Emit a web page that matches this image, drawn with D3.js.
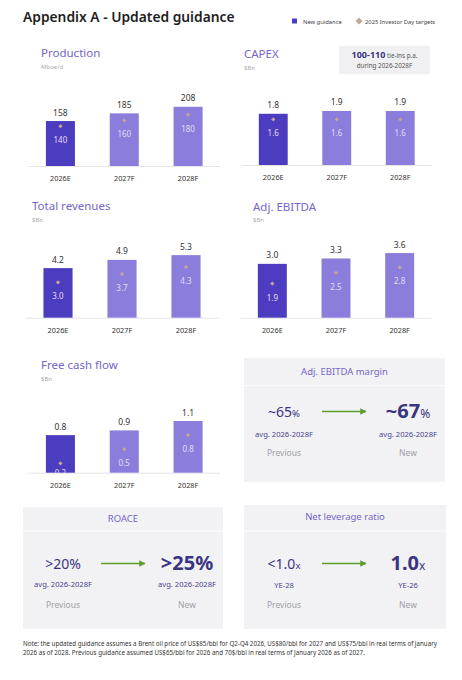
<!DOCTYPE html>
<html>
<head>
<meta charset="utf-8">
<title>Appendix A - Updated guidance</title>
<script src="https://cdnjs.cloudflare.com/ajax/libs/d3/7.8.5/d3.min.js"></script>
<style>
  body { margin: 0; background: #fff; }
  svg { display: block; font-family: "Noto Sans", "Open Sans", sans-serif; }
</style>
</head>
<body>
<div id="chart"></div>
<script>
// data
var years = ["2026E", "2027F", "2028F"];

var productionNew = [158, 185, 208];
var productionTarget = [140, 160, 180];
var capexNew = [1.8, 1.9, 1.9];
var capexTarget = [1.6, 1.6, 1.6];
var revenuesNew = [4.2, 4.9, 5.3];
var revenuesTarget = [3.0, 3.7, 4.3];
var ebitdaNew = [3.0, 3.3, 3.6];
var ebitdaTarget = [1.9, 2.5, 2.8];
var fcfNew = [0.8, 0.9, 1.1];
var fcfTarget = [0.2, 0.5, 0.8];

var kpiTitles = ["Adj. EBITDA margin", "ROACE", "Net leverage ratio"];
var kpiPrev = [["~65", "%"], [">20%", ""], ["<1.0", "x"]];
var kpiNew = [["~67", "%"], [">25%", ""], ["1.0", "x"]];
var kpiPrevSub = ["avg. 2026-2028F", "avg. 2026-2028F", "YE-28"];
var kpiNewSub = ["avg. 2026-2028F", "avg. 2026-2028F", "YE-26"];

var w = 462, h = 680;
var darkBar = "#4c3cbf", lightBar = "#8a7ddc", diamondCol = "#c4a597";
var titleCol = "#7565c9", navy = "#3b3480";

var svg = d3.select("#chart").append("svg")
    .attr("width", w)
    .attr("height", h);

// rotated square, like the slide's markers
function diamond(side) {
  return d3.symbol(d3.symbolSquare, side * side)();
}

// header
svg.append("text")
    .attr("x", 23).attr("y", 22)
    .attr("font-size", 13.8).attr("font-weight", 600).attr("fill", "#1e1e1e")
    .text("Appendix A - Updated guidance");

svg.append("rect").attr("x", 292).attr("y", 18.5).attr("width", 5).attr("height", 5).attr("fill", darkBar);
svg.append("text").attr("x", 303).attr("y", 23.5).attr("font-size", 5.8).attr("fill", "#444").text("New guidance");
svg.append("path")
    .attr("d", diamond(5))
    .attr("transform", "translate(359,21) rotate(45)")
    .attr("fill", diamondCol);
svg.append("text").attr("x", 365).attr("y", 23.5).attr("font-size", 5.8).attr("fill", "#444").text("2025 Investor Day targets");

// bar panels
var panels = [
  {title: "Production", unit: "Mboe/d", vals: productionNew, tgt: productionTarget, fmt: d3.format("d"),
   x0: 28.5, x1: 220, base: 166, top: 246, tx: 41, ty: 57},
  {title: "CAPEX", unit: "$Bn", vals: capexNew, tgt: capexTarget, fmt: d3.format(".1f"),
   x0: 241.5, x1: 432, base: 165, top: 2.46, tx: 244, ty: 58},
  {title: "Total revenues", unit: "$Bn", vals: revenuesNew, tgt: revenuesTarget, fmt: d3.format(".1f"),
   x0: 26, x1: 218, base: 317.7, top: 5.93, tx: 32, ty: 210},
  {title: "Adj. EBITDA", unit: "$Bn", vals: ebitdaNew, tgt: ebitdaTarget, fmt: d3.format(".1f"),
   x0: 240.5, x1: 431.5, base: 317.7, top: 3.9, tx: 253, ty: 210.5},
  {title: "Free cash flow", unit: "$Bn", vals: fcfNew, tgt: fcfTarget, fmt: d3.format(".1f"),
   x0: 28.5, x1: 220, base: 472.7, top: 1.49, tx: 41, ty: 369}
];

var defs = svg.append("defs");

panels.forEach(function(p, pi) {
  var g = svg.append("g");
  var x = d3.scaleBand().domain(years).range([p.x0, p.x1]).paddingInner(0.545).paddingOuter(0.2725);
  var y = d3.scaleLinear().domain([0, p.top]).range([p.base, p.base - 70]);

  g.append("text").attr("x", p.tx).attr("y", p.ty)
      .attr("font-size", 11.5).attr("fill", titleCol).text(p.title);
  g.append("text").attr("x", p.tx).attr("y", p.ty + 11.5)
      .attr("font-size", 6).attr("fill", "#aaa").text(p.unit);

  g.append("line")
      .attr("x1", p.x0).attr("x2", p.x1)
      .attr("y1", p.base + 0.5).attr("y2", p.base + 0.5)
      .attr("stroke", "#e4e4e8").attr("stroke-width", 1);

  var data = years.map(function(yr, i) { return {yr: yr, v: p.vals[i], t: p.tgt[i], i: i}; });

  // clip each bar so the target label never leaves it
  data.forEach(function(d) {
    defs.append("clipPath").attr("id", "clip" + pi + "_" + d.i)
      .append("rect")
        .attr("x", x(d.yr)).attr("y", y(d.v))
        .attr("width", x.bandwidth()).attr("height", p.base - y(d.v));
  });

  var bars = g.selectAll(".bar").data(data).enter().append("g");

  bars.append("rect")
      .attr("x", function(d) { return x(d.yr); })
      .attr("y", function(d) { return y(d.v); })
      .attr("width", x.bandwidth())
      .attr("height", function(d) { return p.base - y(d.v); })
      .attr("fill", function(d) { return d.i === 0 ? darkBar : lightBar; });

  bars.append("text")
      .attr("x", function(d) { return x(d.yr) + x.bandwidth() / 2; })
      .attr("y", function(d) { return y(d.v) - 5.5; })
      .attr("text-anchor", "middle").attr("font-size", 8.5).attr("fill", "#333")
      .text(function(d) { return p.fmt(d.v); });

  bars.append("path")
      .attr("d", diamond(3))
      .attr("transform", function(d) { return "translate(" + (x(d.yr) + x.bandwidth() / 2) + "," + y(d.t) + ") rotate(45)"; })
      .attr("fill", diamondCol);

  bars.append("text")
      .attr("clip-path", function(d) { return "url(#clip" + pi + "_" + d.i + ")"; })
      .attr("x", function(d) { return x(d.yr) + x.bandwidth() / 2; })
      .attr("y", function(d) { return Math.min(y(d.t) + 17, p.base + 3); })
      .attr("text-anchor", "middle").attr("font-size", 8).attr("fill", "#e2ddf7")
      .text(function(d) { return p.fmt(d.t); });

  g.selectAll(".yr").data(years).enter().append("text")
      .attr("x", function(d) { return x(d) + x.bandwidth() / 2; })
      .attr("y", p.base + 15)
      .attr("text-anchor", "middle").attr("font-size", 7.3).attr("fill", "#333")
      .text(function(d) { return d; });
});

// tie-ins box next to CAPEX
svg.append("rect").attr("x", 339).attr("y", 46).attr("width", 91).attr("height", 28).attr("fill", "#f0f0f2");
var tie = svg.append("text").attr("x", 384.5).attr("y", 57.5).attr("text-anchor", "middle").attr("fill", navy);
tie.append("tspan").attr("font-size", 9).attr("font-weight", 700).text("100-110");
tie.append("tspan").attr("font-size", 6.3).attr("fill", "#555").text(" tie-ins p.a.");
svg.append("text").attr("x", 384.5).attr("y", 68).attr("text-anchor", "middle")
    .attr("font-size", 6.3).attr("fill", "#555").text("during 2026-2028F");

// KPI boxes
var boxes = [
  {x: 244, y: 358, w: 201, h: 124, vy: 417, sy: 436.5, py: 456},
  {x: 23, y: 507, w: 200, h: 122, vy: 569, sy: 587, py: 608},
  {x: 244, y: 505, w: 202, h: 124, vy: 569, sy: 588, py: 608}
];

var arrowHead = defs.append("marker")
    .attr("id", "arrow").attr("viewBox", "0 0 10 10")
    .attr("refX", 9).attr("refY", 5)
    .attr("markerWidth", 4).attr("markerHeight", 4)
    .attr("orient", "auto");
arrowHead.append("path").attr("d", "M0,0L10,5L0,10Z").attr("fill", "#5c9e2e");

boxes.forEach(function(b, i) {
  var g = svg.append("g");
  g.append("rect").attr("x", b.x).attr("y", b.y).attr("width", b.w).attr("height", b.h).attr("fill", "#f2f2f4");
  var hy = i === 0 ? b.y + 17 : b.y + 15;
  var sep = i === 0 ? b.y + 27.5 : 531;
  g.append("line").attr("x1", b.x).attr("x2", b.x + b.w).attr("y1", sep).attr("y2", sep)
      .attr("stroke", "#fbfbfc").attr("stroke-width", 1.2);
  g.append("text").attr("x", b.x + b.w / 2).attr("y", hy)
      .attr("text-anchor", "middle").attr("font-size", 9.5).attr("fill", titleCol).text(kpiTitles[i]);

  var lx = b.x + 40, rx = b.x + 164;

  var pt = g.append("text").attr("x", lx).attr("y", b.vy).attr("text-anchor", "middle").attr("fill", navy);
  pt.append("tspan").attr("font-size", 14).text(kpiPrev[i][0]);
  pt.append("tspan").attr("font-size", 9.5).text(kpiPrev[i][1]);

  var nt = g.append("text").attr("x", rx).attr("y", b.vy + 1).attr("text-anchor", "middle").attr("fill", navy);
  nt.append("tspan").attr("font-size", 20).attr("font-weight", 700).text(kpiNew[i][0]);
  nt.append("tspan").attr("font-size", 12).text(kpiNew[i][1]);

  g.append("text").attr("x", lx).attr("y", b.sy).attr("text-anchor", "middle")
      .attr("font-size", 7.6).attr("fill", "#4a4390").text(kpiPrevSub[i]);
  g.append("text").attr("x", rx).attr("y", b.sy).attr("text-anchor", "middle")
      .attr("font-size", 7.6).attr("fill", "#4a4390").text(kpiNewSub[i]);

  g.append("text").attr("x", lx).attr("y", b.py).attr("text-anchor", "middle")
      .attr("font-size", 8.5).attr("fill", "#a0a0a6").text("Previous");
  g.append("text").attr("x", rx).attr("y", b.py).attr("text-anchor", "middle")
      .attr("font-size", 8.5).attr("fill", "#a0a0a6").text("New");

  g.append("line")
      .attr("x1", b.x + 78).attr("x2", b.x + 122)
      .attr("y1", b.vy - 5.5).attr("y2", b.vy - 5.5)
      .attr("stroke", "#5c9e2e").attr("stroke-width", 1.6)
      .attr("marker-end", "url(#arrow)");
});

// footnote
var note = svg.append("text").attr("font-size", 6.2).attr("fill", "#333");
note.append("tspan").attr("x", 23).attr("y", 646)
    .text("Note: the updated guidance assumes a Brent oil price of US$85/bbl for Q2-Q4 2026, US$80/bbl for 2027 and US$75/bbl in real terms of January");
note.append("tspan").attr("x", 23).attr("y", 654.5)
    .text("2026 as of 2028. Previous guidance assumed US$65/bbl for 2026 and 70$/bbl in real terms of January 2026 as of 2027.");
</script>
</body>
</html>
